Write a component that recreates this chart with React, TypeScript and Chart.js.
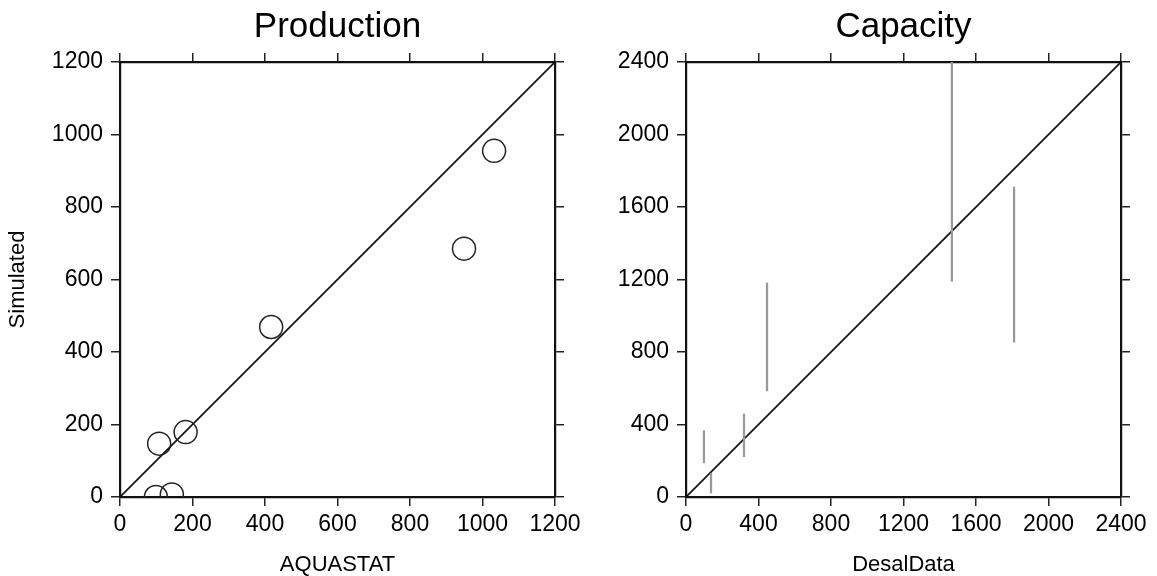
import React, { useEffect, useRef } from "react";
import { Chart, registerables } from "chart.js";

Chart.register(...registerables);

// ---------- data ----------
const prodAquastat = [1032, 949, 417, 181, 108, 99, 143];
const prodSimulated = [955, 685, 469, 179, 147, 0, 7];
const prodTicks = [0, 200, 400, 600, 800, 1000, 1200];
const prodOneToOne = [0, 1200];

const capDesalData = [99, 138, 320, 447, 1467, 1810];
const capLow = [188, 22, 222, 585, 1190, 855];
const capHigh = [366, 130, 458, 1181, 2400, 1710];
const capTicks = [0, 400, 800, 1200, 1600, 2000, 2400];
const capOneToOne = [0, 2400];

const FONT = "'Liberation Sans', Arial, Helvetica, sans-serif";
const INK = "#000";

function buildScales(ticks: number[], xTitle: string, yTitle: string | null, yWidth: number) {
  const min = ticks[0];
  const max = ticks[ticks.length - 1];
  const setTicks = (s: any) => {
    s.ticks = ticks.map((v) => ({ value: v }));
  };
  const grid = {
    drawOnChartArea: false,
    drawTicks: true,
    tickLength: 9,
    color: "#222",
    lineWidth: 1.5,
    offset: false,
  };
  const border = { display: true, color: "#111", width: 2.2 };
  const tickFont = { family: FONT, size: 23 };
  return {
    x: {
      type: "linear",
      position: "bottom",
      min,
      max,
      offset: false,
      grid,
      border,
      afterBuildTicks: setTicks,
      ticks: {
        font: tickFont,
        color: INK,
        padding: 5,
        maxRotation: 0,
        autoSkip: false,
        callback: (v: any) => String(v),
      },
      title: {
        display: true,
        text: xTitle,
        color: INK,
        font: { family: FONT, size: 22, lineHeight: 1 },
        padding: { top: 0, bottom: 0 },
      },
      afterFit: (s: any) => {
        s.height = 79;
      },
    },
    y: {
      type: "linear",
      position: "left",
      min,
      max,
      offset: false,
      grid,
      border,
      afterBuildTicks: setTicks,
      ticks: {
        font: tickFont,
        color: INK,
        padding: 8,
        autoSkip: false,
        callback: (v: any) => String(v),
      },
      title: {
        display: !!yTitle,
        text: yTitle || "",
        color: INK,
        font: { family: FONT, size: 22, lineHeight: 1 },
        padding: { top: 7, bottom: 0 },
      },
      afterFit: (s: any) => {
        s.width = yWidth;
      },
    },
    x2: {
      type: "linear",
      position: "top",
      min,
      max,
      offset: false,
      grid,
      border,
      afterBuildTicks: setTicks,
      ticks: { display: false },
      afterFit: (s: any) => {
        s.height = 0;
      },
    },
    y2: {
      type: "linear",
      position: "right",
      min,
      max,
      offset: false,
      grid,
      border,
      afterBuildTicks: setTicks,
      ticks: { display: false },
      afterFit: (s: any) => {
        s.width = 0;
      },
    },
  };
}

function titleOpts(text: string) {
  return {
    display: true,
    text,
    fullSize: false,
    color: INK,
    font: { family: FONT, size: 35, weight: "normal" as any, lineHeight: 1.2 },
    padding: { top: 6.5, bottom: 13.5 },
  };
}

export default function App() {
  const leftRef = useRef<HTMLCanvasElement>(null);
  const rightRef = useRef<HTMLCanvasElement>(null);

  useEffect(() => {
    const left = new Chart(leftRef.current as HTMLCanvasElement, {
      type: "scatter",
      data: {
        datasets: [
          {
            data: prodAquastat.map((x, i) => ({ x, y: prodSimulated[i] })),
            pointRadius: 11.5,
            pointHoverRadius: 11.5,
            pointBorderColor: "#222",
            pointBackgroundColor: "rgba(0,0,0,0)",
            pointBorderWidth: 1.5,
            showLine: false,
            clip: 0,
          } as any,
          {
            data: prodOneToOne.map((v) => ({ x: v, y: v })),
            showLine: true,
            borderColor: "#111",
            borderWidth: 1.7,
            pointRadius: 0,
            clip: 0,
          } as any,
        ],
      },
      options: {
        animation: false,
        responsive: false,
        devicePixelRatio: 1,
        events: [],
        layout: { padding: { left: 0, right: 45, top: 0, bottom: 0 } },
        plugins: {
          legend: { display: false },
          tooltip: { enabled: false },
          title: titleOpts("Production") as any,
        },
        scales: buildScales(prodTicks, "AQUASTAT", "Simulated", 120) as any,
      },
    });

    const right = new Chart(rightRef.current as HTMLCanvasElement, {
      type: "bar",
      data: {
        datasets: [
          {
            type: "bar",
            data: capDesalData.map((x, i) => ({ x, y: [capLow[i], capHigh[i]] })) as any,
            backgroundColor: "#999",
            borderWidth: 0,
            barThickness: 1.6,
            clip: 0,
          } as any,
          {
            type: "line",
            data: capOneToOne.map((v) => ({ x: v, y: v })) as any,
            borderColor: "#111",
            borderWidth: 1.7,
            pointRadius: 0,
            clip: 0,
          } as any,
        ],
      },
      options: {
        animation: false,
        responsive: false,
        devicePixelRatio: 1,
        events: [],
        layout: { padding: { left: 0, right: 36, top: 0, bottom: 0 } },
        plugins: {
          legend: { display: false },
          tooltip: { enabled: false },
          title: titleOpts("Capacity") as any,
        },
        scales: buildScales(capTicks, "DesalData", null, 126) as any,
      },
    });

    return () => {
      left.destroy();
      right.destroy();
    };
  }, []);

  return (
    <div
      style={{
        position: "absolute",
        left: 0,
        top: 0,
        width: 1157,
        height: 576,
        background: "#fff",
        overflow: "hidden",
      }}
    >
      <canvas
        ref={leftRef}
        width={600}
        height={576}
        style={{ position: "absolute", left: 0, top: 0 }}
      />
      <canvas
        ref={rightRef}
        width={597}
        height={576}
        style={{ position: "absolute", left: 560, top: 0 }}
      />
    </div>
  );
}
